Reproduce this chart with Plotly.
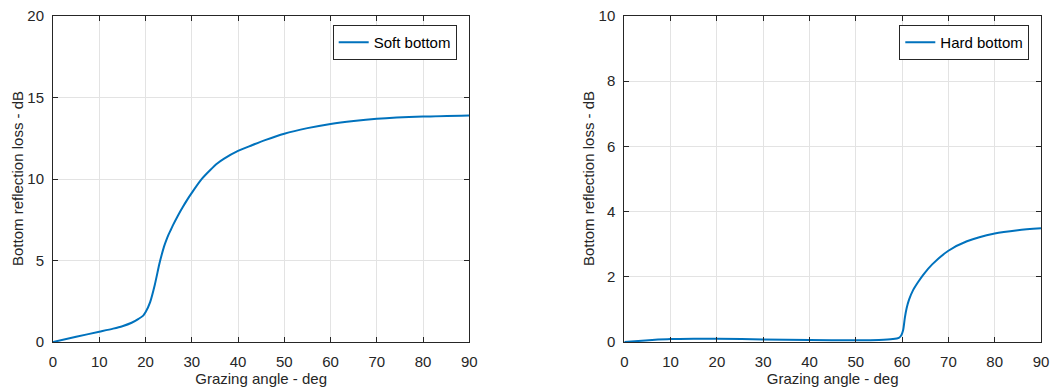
import plotly.graph_objects as go

soft_angle = [0, 5, 10, 13, 15, 17, 18.5, 19.5, 20, 21, 22, 23, 23.5, 24, 24.5, 25, 25.5, 26, 27, 28, 29, 30, 32, 34, 35.5, 37, 40, 43, 46, 50, 55, 60, 65, 70, 80, 90]
soft_loss = [0, 0.32, 0.63, 0.82, 0.97, 1.18, 1.42, 1.62, 1.82, 2.45, 3.5, 4.8, 5.35, 5.85, 6.25, 6.6, 6.9, 7.2, 7.75, 8.25, 8.72, 9.15, 9.95, 10.55, 10.95, 11.25, 11.72, 12.07, 12.4, 12.78, 13.12, 13.38, 13.56, 13.69, 13.83, 13.9]

hard_angle = [0, 3, 6, 10, 15, 20, 30, 40, 50, 55, 58, 59.3, 59.8, 60.2, 60.6, 61, 61.5, 62.4, 63.5, 64.6, 66.5, 70, 74, 80, 85, 90]
hard_loss = [0, 0.03, 0.06, 0.09, 0.1, 0.1, 0.08, 0.06, 0.05, 0.06, 0.09, 0.13, 0.2, 0.35, 0.75, 1.05, 1.3, 1.6, 1.85, 2.07, 2.38, 2.8, 3.09, 3.33, 3.43, 3.49]

x_ticks = [0, 10, 20, 30, 40, 50, 60, 70, 80, 90]
soft_y_ticks = [0, 5, 10, 15, 20]
hard_y_ticks = [0, 2, 4, 6, 8, 10]

x_title = "Grazing angle - deg"
y_title = "Bottom reflection loss - dB"

LINE = "#0072BD"
AX = "#262626"
GRID = "#e3e3e3"
FONT = "Liberation Sans, Arial, sans-serif"
FS = 15

W, H = 1051, 389
ML, MR, MT, MB = 53, 10, 16, 47
PW = W - ML - MR

fig = go.Figure()
fig.add_trace(go.Scatter(x=soft_angle, y=soft_loss, mode="lines", name="Soft bottom",
                         line=dict(color=LINE, width=2, shape="spline", smoothing=0.8),
                         xaxis="x", yaxis="y", legend="legend"))
fig.add_trace(go.Scatter(x=hard_angle, y=hard_loss, mode="lines", name="Hard bottom",
                         line=dict(color=LINE, width=2, shape="spline", smoothing=0.8),
                         xaxis="x2", yaxis="y2", legend="legend2"))

def xax(domain, anchor):
    return dict(domain=domain, anchor=anchor, range=[0, 90], tickvals=x_ticks,
                showline=True, linecolor=AX, linewidth=1, mirror="allticks",
                ticks="inside", ticklen=5, tickcolor=AX, tickwidth=1,
                showgrid=True, gridcolor=GRID, gridwidth=1, zeroline=False,
                ticklabelstandoff=6,
                tickfont=dict(family=FONT, size=FS, color=AX),
                title=dict(text=x_title, font=dict(family=FONT, size=FS, color=AX), standoff=4))

def yax(domain, anchor, rng, tv):
    return dict(domain=domain, anchor=anchor, range=rng, tickvals=tv,
                showline=True, linecolor=AX, linewidth=1, mirror="allticks",
                ticks="inside", ticklen=5, tickcolor=AX, tickwidth=1,
                showgrid=True, gridcolor=GRID, gridwidth=1, zeroline=False,
                ticklabelstandoff=5,
                tickfont=dict(family=FONT, size=FS, color=AX))

LEG_TOP = 25
fig.update_layout(
    width=W, height=H,
    margin=dict(l=ML, r=MR, t=MT, b=MB, autoexpand=False),
    paper_bgcolor="white", plot_bgcolor="white",
    xaxis=xax([0, (469.3 - ML) / PW], "y"),
    yaxis=yax([0, 1], "x", [0, 20], soft_y_ticks),
    xaxis2=xax([(624.3 - ML) / PW, 1], "y2"),
    yaxis2=yax([0, 1], "x2", [0, 10], hard_y_ticks),
    legend=dict(x=456.7 / W, y=1 - LEG_TOP / H, xref="container", yref="container",
                xanchor="right", yanchor="top",
                bordercolor=AX, borderwidth=1, bgcolor="white",
                font=dict(family=FONT, size=FS, color="black")),
    legend2=dict(x=1029.3 / W, y=1 - LEG_TOP / H, xref="container", yref="container",
                 xanchor="right", yanchor="top",
                 bordercolor=AX, borderwidth=1, bgcolor="white",
                 font=dict(family=FONT, size=FS, color="black")),
    showlegend=True,
)

for px in (17, 588):
    fig.add_annotation(text=y_title, textangle=-90, showarrow=False,
                       xref="paper", yref="paper", x=(px - ML) / PW, y=0.5,
                       xanchor="center", yanchor="middle",
                       font=dict(family=FONT, size=FS, color=AX))

fig.write_html("out.html")
